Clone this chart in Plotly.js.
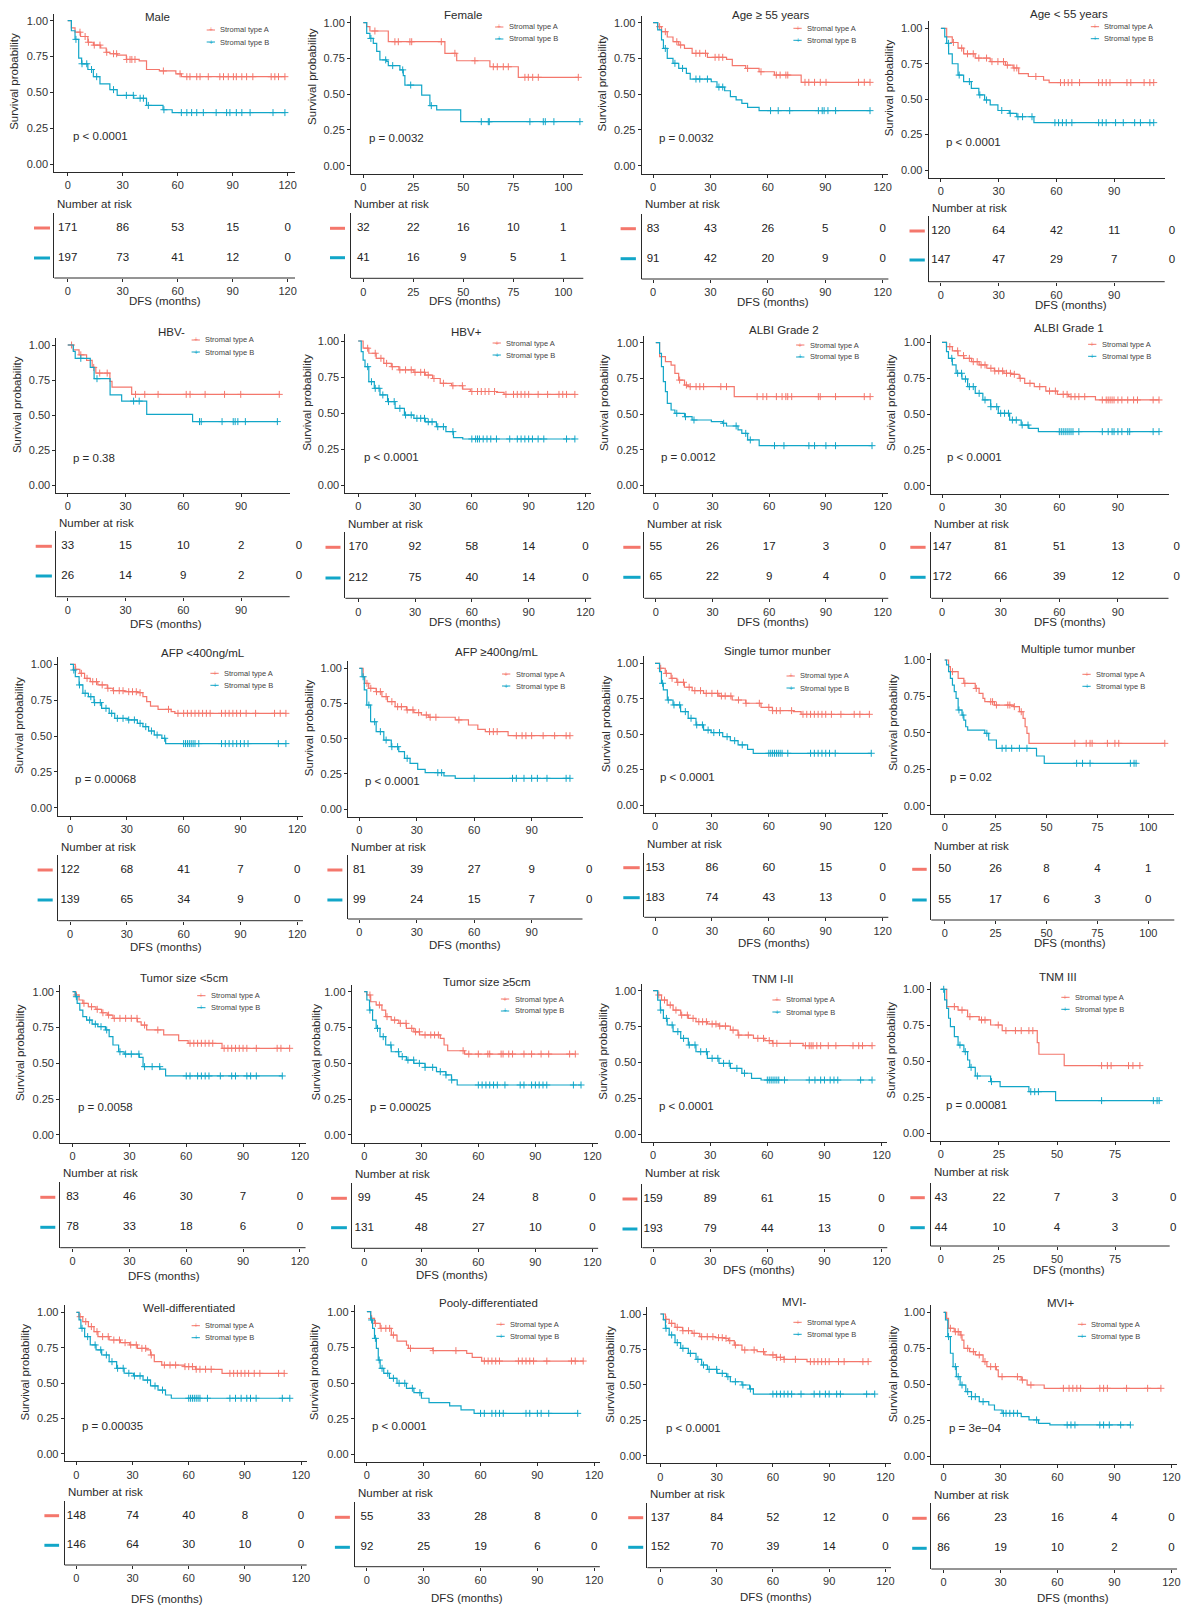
<!DOCTYPE html>
<html><head><meta charset="utf-8">
<script src="https://cdn.plot.ly/plotly-3.0.1.min.js"></script>
<style>html,body{margin:0;padding:0;background:#fff}#chart{width:1185px;height:1608px}</style>
</head><body><div id="chart"></div>
<script>
// ---------------- DATA ----------------
const panelTitles = ['Male','Female','Age \u2265 55 years','Age < 55 years','HBV-','HBV+','ALBI Grade 2','ALBI Grade 1',
  'AFP <400ng/mL','AFP \u2265400ng/mL','Single tumor munber','Multiple tumor munber','Tumor size <5cm','Tumor size \u22655cm',
  'TNM I-II','TNM III','Well-differentiated','Pooly-differentiated','MVI-','MVI+'];
const pValues = ['p < 0.0001','p = 0.0032','p = 0.0032','p < 0.0001','p = 0.38','p < 0.0001','p = 0.0012','p < 0.0001',
  'p = 0.00068','p < 0.0001','p < 0.0001','p = 0.02','p = 0.0058','p = 0.00025','p < 0.0001','p = 0.00081',
  'p = 0.00035','p < 0.0001','p < 0.0001','p = 3e\u221204'];
const groupNames = ['Stromal type A','Stromal type B'];
const riskTimes120 = [0,30,60,90,120];
const riskTimes100 = [0,25,50,75,100];
const uses100 = [false,true,false,false,false,false,false,false,false,false,false,true,false,false,false,true,false,false,false,false];
const tickMax = [120,100,120,90,90,120,120,90,120,90,120,100,120,120,120,75,120,120,120,120];
const riskA = [[171,86,53,15,0],[32,22,16,10,1],[83,43,26,5,0],[120,64,42,11,0],[33,15,10,2,0],[170,92,58,14,0],
  [55,26,17,3,0],[147,81,51,13,0],[122,68,41,7,0],[81,39,27,9,0],[153,86,60,15,0],[50,26,8,4,1],
  [83,46,30,7,0],[99,45,24,8,0],[159,89,61,15,0],[43,22,7,3,0],[148,74,40,8,0],[55,33,28,8,0],[137,84,52,12,0],[66,23,16,4,0]];
const riskB = [[197,73,41,12,0],[41,16,9,5,1],[91,42,20,9,0],[147,47,29,7,0],[26,14,9,2,0],[212,75,40,14,0],
  [65,22,9,4,0],[172,66,39,12,0],[139,65,34,9,0],[99,24,15,7,0],[183,74,43,13,0],[55,17,6,3,0],
  [78,33,18,6,0],[131,48,27,10,0],[193,79,44,13,0],[44,10,4,3,0],[146,64,30,10,0],[92,25,19,6,0],[152,70,39,14,0],[86,19,10,2,0]];

// Kaplan-Meier steps: [time, survival after step]; censor times
const male_A = [[0,1],[2,0.95],[4,0.92],[7,0.89],[11,0.85],[14,0.83],[18,0.81],[21,0.78],[23,0.77],[27,0.76],[32,0.73],[39,0.72],[43,0.66],[50,0.65],[59,0.63],[62,0.61]];
const male_A_cens = [6.7,9.5,11.3,14.5,17.6,21.3,25,26.7,32.2,34,35,36.7,52.2,61.3,65,66.7,70.4,72.2,76.7,83,85,87.6,90.4,92,95,97.6,101,111,113,115,118.5];
const male_B = [[0,1],[2,0.93],[4,0.87],[6,0.74],[7.6,0.70],[11,0.66],[14,0.61],[17.6,0.56],[23,0.52],[27,0.48],[36,0.46],[43,0.41],[52,0.38],[57,0.36]];
const male_B_cens = [4.5,7.8,10.4,13,15.8,25,32,35.8,39.5,41.3,44,52.5,62,65,67.6,70.4,74,81,86.7,88.5,92,95,99.5,112,118.5];

const female_A = [[0,1],[1.7,0.972],[3.3,0.942],[12.5,0.867],[40.8,0.786],[46.7,0.734],[63.3,0.692],[77.5,0.618]];
const female_A_cens = [5.8,15.8,17.5,23.3,24.2,39,45.8,55.8,65,67,70,72.5,80.8,82.5,84.7,87.5,107.5];
const female_B = [[0,1],[1.7,0.925],[3.3,0.89],[5,0.855],[6.7,0.80],[8.3,0.74],[11.7,0.73],[12.5,0.70],[18.3,0.67],[20,0.63],[20.8,0.564],[29.2,0.494],[33.3,0.42],[36.7,0.39],[48.7,0.308]];
const female_B_cens = [3.8,11.2,14.7,19.7,23.7,34,59,62.5,63,83.3,90,91,95.3,108.3];

const age55p_A = [[0,1],[2.4,0.972],[4.4,0.937],[7.4,0.90],[10.4,0.867],[13.4,0.844],[16.4,0.82],[20.4,0.786],[28.4,0.758],[38.4,0.744],[41.4,0.70],[48.4,0.68],[55.4,0.657],[63.4,0.634],[77.4,0.583]];
const age55p_A_cens = [3.4,6.4,12.4,14.4,22.4,24.4,27.4,32.4,34.4,36.4,49.4,56.4,64.4,66.4,69.4,70.4,79.4,81.4,84.4,87.4,90.4,107.4,110.4,113.4];
const age55p_B = [[0,1],[2.4,0.95],[4.4,0.88],[5.4,0.82],[7.4,0.75],[10.4,0.716],[13.4,0.68],[17.4,0.646],[19.4,0.606],[30.4,0.587],[33.4,0.55],[37.4,0.524],[40.4,0.483],[43.4,0.46],[46.4,0.436],[49.4,0.408],[55.4,0.385]];
const age55p_B_cens = [6.4,11.4,15.4,22.4,24.4,28.4,34.4,36.4,61.4,65.4,71.4,86.4,88.4,89.4,91.4,95.4,113.4];

const age55m_A = [[0,1],[3,0.94],[5.9,0.90],[8.9,0.86],[11.8,0.82],[17.8,0.79],[25.6,0.765],[33.5,0.74],[37.5,0.72],[40.4,0.68],[45.4,0.66],[53.3,0.635],[56.2,0.617]];
const age55m_A_cens = [6.5,10.8,13.8,16.8,19.7,23.7,26.5,29.6,32.5,34.5,38,39.4,49.3,62.1,64.1,66.1,68,72,81.9,83.8,85.8,87.8,96.6,98.6,105.5,108.5,110.5];
const age55m_B = [[0,1],[2,0.94],[3,0.894],[4,0.82],[5.9,0.75],[8.9,0.67],[11.8,0.624],[15.8,0.576],[19.7,0.53],[22.7,0.494],[25.6,0.46],[29.6,0.42],[35.5,0.40],[39.4,0.376],[48.3,0.334]];
const age55m_B_cens = [3.9,9.5,14.8,20.2,23.7,31.6,36,40,42.4,47.3,59.2,61.1,63.1,65.1,68,81.9,83.8,85.8,90.7,94.7,100.6,103.6,108.5,110.5];

const hbvn_A = [[0,1],[2.9,0.965],[5.9,0.93],[9.8,0.89],[12.7,0.84],[14.6,0.80],[21.9,0.74],[23,0.70],[33.2,0.648]];
const hbvn_A_cens = [2,6.8,13.5,16.6,20.5,35.2,40,46.9,61.5,63.5,71.3,81.4,89.8,109.8];
const hbvn_B = [[0,1],[2.9,0.955],[3.9,0.905],[11.7,0.84],[13.7,0.76],[22,0.644],[28,0.60],[41,0.506],[64.8,0.454]];
const hbvn_B_cens = [6.8,15.2,34.2,37.1,68.4,69.3,80.1,85.9,86.9,88.3,92.2,108.8];

const hbvp_A = [[0,1],[2.6,0.95],[5.6,0.915],[9.5,0.88],[13.5,0.845],[17.5,0.822],[21.5,0.80],[29.4,0.783],[35.4,0.764],[39.3,0.74],[43.3,0.707],[49.3,0.69],[55.2,0.667],[59.2,0.65],[73.1,0.644],[77,0.63]];
const hbvp_A_cens = [5,9,12,15,18,22,25,28,30,33,35,37,40,45,50,55,60,63,65,67,69,72,78,82,84,86,88,90,95,100,106,108,110,114.4];
const hbvp_B = [[0,1],[1.6,0.926],[2.6,0.868],[3.6,0.822],[5.6,0.718],[8.5,0.672],[11.5,0.626],[15.5,0.58],[19.5,0.533],[24.4,0.487],[29.4,0.464],[35.4,0.44],[41.3,0.406],[46.3,0.372],[50.3,0.33],[55.2,0.321]];
const hbvp_B_cens = [5,7,9,11,13,16,19,22,25,28,31,33,35,37,39,42,45,50,60,62,63,64,66,68,70,73,80,84,86,88,90,92,95,98,110,114.4];

const albi2_A = [[0,1],[2,0.902],[5.1,0.867],[8.1,0.843],[10.1,0.785],[12.1,0.738],[15.2,0.703],[17.2,0.692],[41.5,0.622]];
const albi2_A_cens = [12.6,16.2,18.2,21.3,23.3,25.3,34.4,37.4,53.6,56.7,58.7,63.8,66.8,68.8,69.8,71.9,86,87,95.1,110.3,113.4];
const albi2_B = [[0,1],[2,0.925],[3,0.832],[4,0.727],[5.1,0.657],[6.1,0.575],[8.1,0.528],[10.1,0.505],[15.2,0.481],[19.2,0.458],[29.4,0.446],[35.4,0.435],[37.4,0.416],[43.5,0.388],[45.5,0.364],[48.6,0.318],[54.7,0.278]];
const albi2_B_cens = [11.1,15.7,20.2,35.9,42.5,47.6,50,62.8,67.8,81,84,90,95.1,114.4];

const albi1_A = [[0,1],[2.3,0.97],[5.3,0.94],[8.2,0.907],[11.2,0.888],[15.1,0.865],[19,0.842],[22.9,0.819],[26.8,0.80],[31.7,0.784],[35.6,0.777],[39.5,0.749],[42.3,0.714],[47.2,0.691],[53.1,0.66],[59,0.637],[64.8,0.621],[78.5,0.598]];
const albi1_A_cens = [4,8,11,14,16,18,20,22,25,27,29,31,33,35,37,40,45,50,55,58,62,64,66,68,70,73,82,84,85,86,87,88,90,92,95,98,100,108,111];
const albi1_B = [[0,1],[2.3,0.935],[3.3,0.888],[5.3,0.842],[7.2,0.784],[10.2,0.744],[13.1,0.691],[17,0.644],[20.9,0.598],[24.9,0.551],[28.8,0.505],[34.6,0.458],[40.5,0.423],[44.4,0.40],[49.3,0.377]];
const albi1_B_cens = [5,8,10,12,14,16,19,22,25,28,30,32,34,36,38,41,44,60,61,62,63,64,65,66,67,70,82,85,87,88,90,92,95,96,108,111];

const afpl_A = [[0,1],[2.8,0.965],[5.2,0.937],[7.7,0.902],[10.7,0.879],[14.7,0.856],[19.7,0.833],[22.7,0.816],[28.6,0.809],[35.6,0.802],[38.5,0.774],[40.5,0.74],[42.5,0.709],[46.5,0.686],[53.4,0.67],[55.4,0.658]];
const afpl_A_cens = [3,6,9,12,14,17,20,23,26,28,31,33,35,37,52,57,60,62,64,66,68,70,72,74,80,82,84,86,88,90,93,98,108,111,114];
const afpl_B = [[0,1],[1.8,0.96],[2.8,0.914],[4.8,0.856],[6.8,0.798],[9.7,0.774],[12.7,0.733],[16.7,0.693],[20.7,0.658],[23.6,0.623],[30.6,0.612],[35.6,0.588],[38.5,0.565],[41.5,0.535],[44.5,0.507],[48.5,0.484],[50.5,0.447]];
const afpl_B_cens = [2,5,8,11,13,16,19,22,25,28,31,34,37,40,43,46,50,60,61,62,63,64,65,66,68,80,82,84,86,88,90,92,94,110,114];

const afph_A = [[0,1],[2,0.94],[2.9,0.893],[4.9,0.858],[8.8,0.834],[11.8,0.799],[14.7,0.763],[18.7,0.727],[24.6,0.704],[28.5,0.685],[32.4,0.668],[36.3,0.652],[50.1,0.633],[57,0.597],[61.9,0.566],[65.8,0.55],[77.7,0.521]];
const afph_A_cens = [4,6,9,11,14,17,20,22,25,28,31,35,37,40,52,68,70,72,82,85,87,90,96,102,108,110];
const afph_B = [[0,1],[1.4,0.94],[2.6,0.846],[3.9,0.739],[5.9,0.62],[8.8,0.55],[12.8,0.49],[16.7,0.443],[20.6,0.408],[23.6,0.36],[26.5,0.325],[30.5,0.282],[34.4,0.258],[44.2,0.235],[50.1,0.218]];
const afph_B_cens = [2,5,8,11,14,17,20,25,41,43,60,80,82,86,90,93,98,108,110];

const single_A = [[0,1],[2.4,0.965],[5.4,0.929],[8.5,0.894],[11.5,0.866],[15.5,0.831],[19.6,0.807],[25.6,0.788],[33.7,0.769],[40.7,0.741],[47.8,0.718],[55.9,0.689],[61.9,0.666],[73,0.659],[77,0.64]];
const single_A_cens = [3,6,9,12,15,18,21,24,27,30,33,35,37,40,44,48,55,60,62,64,66,72,78,80,82,84,86,88,90,93,98,105,108,113];
const single_B = [[0,1],[2.4,0.941],[3.4,0.859],[4.4,0.812],[6.5,0.741],[9.5,0.706],[13.5,0.659],[17.5,0.612],[21.6,0.565],[25.6,0.529],[29.6,0.511],[35.7,0.482],[39.7,0.454],[43.8,0.424],[48.8,0.393],[51.8,0.365]];
const single_B_cens = [4,7,10,13,16,19,22,25,28,31,34,38,42,46,60,61,62,63,64,65,66,67,70,82,84,86,88,90,92,95,114];

const multi_A = [[0,1],[1.9,0.954],[2.8,0.92],[6.6,0.874],[9.4,0.84],[15,0.805],[16.9,0.771],[18.8,0.737],[19.7,0.714],[24.4,0.691],[33.8,0.68],[36.7,0.645],[38.5,0.60],[39.5,0.542],[40.4,0.497],[41.4,0.428]];
const multi_A_cens = [3.8,9.9,15.5,22.6,23.5,25.4,31,32,34.2,37.6,63.9,69.5,71.4,72.4,79.9,83.6,85.5,108.1];
const multi_B = [[0,1],[0.9,0.966],[1.9,0.92],[2.8,0.874],[3.8,0.828],[4.7,0.783],[5.6,0.737],[6.6,0.657],[8.5,0.622],[9.4,0.588],[10.3,0.542],[11.3,0.519],[19.7,0.497],[21.6,0.451],[25.4,0.394],[45.1,0.341],[48.9,0.291]];
const multi_B_cens = [7,9,20.7,28.2,30.1,32.9,36.7,40.4,64.8,67.7,71.4,91.2,93,94];

const s5l_A = [[0,1],[1.4,0.977],[3.4,0.942],[5.4,0.919],[8.3,0.895],[12.3,0.877],[15.3,0.853],[18.3,0.837],[21.3,0.814],[34.2,0.79],[36.2,0.767],[39.1,0.733],[48.1,0.698],[56,0.658],[61,0.64],[78.9,0.605]];
const s5l_A_cens = [2,6,10,13,16,19,22,25,28,31,34,38,45,62,64,66,68,70,72,74,80,82,84,86,88,90,92,97,108,110,114.6];
const s5l_B = [[0,1],[1.4,0.965],[2.4,0.919],[3.8,0.872],[5.4,0.826],[7.4,0.802],[10.3,0.774],[13.3,0.756],[17.3,0.733],[19.3,0.686],[21.3,0.628],[24.3,0.581],[27.2,0.565],[35.2,0.542],[37.2,0.477],[46.1,0.46],[49.1,0.412]];
const s5l_B_cens = [2,9,12,15,18,25,28,31,35,38,42,46,60,62,66,68,70,72,78,84,86,92,94,97,110.7];

const s5h_A = [[0,1],[1.4,0.977],[3.4,0.93],[6.3,0.907],[9.3,0.872],[11.3,0.826],[14.2,0.802],[18.2,0.779],[22.2,0.744],[26.1,0.72],[29.1,0.698],[40,0.674],[42,0.628],[43.9,0.588],[52.8,0.565]];
const s5h_A_cens = [3,8,12,16,19,22,25,27,29,32,35,37,39,52,55,60,65,66,72,73,76,78,84,88,93,97,108,111];
const s5h_B = [[0,1],[1.4,0.942],[2.8,0.872],[4.4,0.802],[6.3,0.744],[8.3,0.686],[11.3,0.628],[14.2,0.581],[18.2,0.547],[22.2,0.523],[26.1,0.50],[32,0.472],[38,0.442],[42.9,0.419],[45.9,0.384],[48.9,0.349]];
const s5h_B_cens = [3,7,10,14,18,20,23,26,29,32,36,40,43,46,60,62,64,66,68,70,74,82,84,88,90,92,94,96,110,114];

const tnm12_A = [[0,1],[2.4,0.97],[4.4,0.935],[7.4,0.90],[10.5,0.865],[14.5,0.83],[18.5,0.807],[22.5,0.784],[28.5,0.768],[34.6,0.754],[40.6,0.726],[44.6,0.691],[52.7,0.668],[58.7,0.652],[62.7,0.633],[78.8,0.617]];
const tnm12_A_cens = [3,6,9,12,15,18,21,24,26,28,31,33,35,38,42,45,50,55,58,61,63,65,72,80,82,83,84,86,88,92,96,105,108,110,115];
const tnm12_B = [[0,1],[2.4,0.935],[3.8,0.865],[5.4,0.807],[7.4,0.761],[10.5,0.715],[14.5,0.668],[18.5,0.622],[22.5,0.575],[28.5,0.529],[34.6,0.494],[40.6,0.459],[46.6,0.425],[51.7,0.39],[56.7,0.378]];
const tnm12_B_cens = [4,7,10,13,16,19,22,25,28,31,34,37,40,44,48,60,61,62,63,64,65,66,69,82,85,88,90,93,95,97,109,115];

const tnm3_A = [[0,1],[2.5,0.88],[7.4,0.856],[11.5,0.81],[16.5,0.787],[21.4,0.752],[26.4,0.713],[41.5,0.63],[42.2,0.549],[53.1,0.47]];
const tnm3_A_cens = [5.8,9.1,12.5,17.5,19,24.7,28,32.1,34.6,37.9,39.6,69.2,71.7,73.3,80.8,82.7,85.7];
const tnm3_B = [[0,1],[1.6,0.926],[2.5,0.868],[3.3,0.799],[4.1,0.741],[5.8,0.671],[7.4,0.613],[9.9,0.567],[11.5,0.509],[12.4,0.458],[14.8,0.398],[21.4,0.359],[25.5,0.324],[37.9,0.289],[49.4,0.227]];
const tnm3_B_cens = [1.2,8.2,10.5,13,15.7,21.8,38.7,40.4,42,69.2,91.5,93.1,94];

const well_A = [[0,1],[1.4,0.969],[3.4,0.934],[6.4,0.899],[9.4,0.863],[11.5,0.828],[17.5,0.804],[23.5,0.785],[28.5,0.769],[32.6,0.745],[37.6,0.734],[39.6,0.698],[41.6,0.651],[45.6,0.627],[57.7,0.616],[63.7,0.597],[77.8,0.568]];
const well_A_cens = [2,5,8,11,14,17,20,23,26,29,32,35,37,40,47,50,53,58,60,62,64,66,69,72,82,84,86,88,90,92,95,98,108,111];
const well_B = [[0,1],[1.4,0.946],[2.4,0.887],[4.4,0.828],[7.4,0.769],[10.5,0.734],[13.5,0.698],[17.5,0.651],[21.5,0.604],[25.5,0.569],[30.5,0.55],[35.6,0.521],[39.6,0.479],[43.6,0.45],[47.6,0.415],[50.7,0.392]];
const well_B_cens = [3,6,10,13,16,19,22,25,28,31,34,38,42,46,60,61,62,63,64,65,66,70,82,85,88,91,93,96,110,114];

const pooly_A = [[0,1],[2,0.953],[4,0.918],[7,0.883],[12.9,0.836],[15.9,0.794],[20.9,0.766],[21.9,0.743],[34.8,0.727],[52.7,0.708],[55.6,0.68],[60.6,0.654]];
const pooly_A_cens = [2.5,4.5,7.5,10,12,14,23,35,47,62,64,66,68,70,80,82,84,86,88,95,108,110,114.2];
const pooly_B = [[0,1],[2,0.942],[3,0.883],[4,0.813],[5,0.743],[6,0.661],[7,0.603],[8.9,0.568],[11.9,0.533],[15.9,0.498],[20.9,0.463],[24.8,0.432],[28.8,0.393],[32.8,0.362],[43.7,0.339],[49.7,0.311],[56.6,0.287]];
const pooly_B_cens = [2.5,4.5,6.5,8,11,14,17,20,24,28,60,62,66,68,70,72,84,86,90,92,96,111.3];

const mvin_A = [[0,1],[2.7,0.962],[4.7,0.934],[7.8,0.906],[11.8,0.882],[16.9,0.864],[21,0.84],[29.2,0.833],[34.3,0.828],[36.3,0.812],[39.4,0.781],[43.5,0.746],[51.6,0.734],[55.7,0.711],[61.8,0.694],[65.9,0.68],[78.2,0.664]];
const mvin_A_cens = [3,6,9,12,15,18,22,25,28,31,33,35,37,40,45,50,55,60,62,64,66,72,80,82,84,86,88,90,95,98,108,110.8];
const mvin_B = [[0,1],[1.6,0.958],[2.7,0.899],[4.7,0.852],[7.8,0.798],[10.8,0.758],[14.9,0.722],[19,0.68],[22,0.64],[25.1,0.609],[30.2,0.581],[35.3,0.558],[37.3,0.522],[43.5,0.499],[47.6,0.471],[49.6,0.435]];
const mvin_B_cens = [3,6,9,12,16,20,23,26,30,33,36,40,44,48,60,62,64,66,68,70,75,82,85,88,90,94,96,110,114.3];

const mvip_A = [[0,1],[1.6,0.958],[2.6,0.889],[5.6,0.865],[8.7,0.842],[9.7,0.807],[10.7,0.749],[13.7,0.726],[16.7,0.703],[20.8,0.657],[22.8,0.622],[27.8,0.599],[28.8,0.552],[40.9,0.529],[44,0.494],[53,0.471]];
const mvip_A_cens = [3.6,6.2,7.7,9.2,12.7,15.7,18.8,21.8,24.8,27.3,30.8,38.9,41.5,46,63.1,66.1,68.1,70.2,72.2,82.3,84.3,86.3,96.4,107.5,114.5];
const mvip_B = [[0,1],[1,0.947],[2.2,0.831],[3.6,0.715],[5,0.622],[6.7,0.552],[8.7,0.494],[11.7,0.448],[14.7,0.413],[18.8,0.378],[23.8,0.355],[26.8,0.32],[30.8,0.297],[40.9,0.274],[45,0.251],[50,0.227],[56,0.216]];
const mvip_B_cens = [2.6,6.2,7.7,9.7,12.7,14.7,16.7,20.8,31.5,32.9,34.9,36.9,38.9,49,65.1,67.1,69.2,82.3,84.3,87.3,93.3,98.4];

// ---------------- ASSEMBLY ----------------
const curvesA = [male_A,female_A,age55p_A,age55m_A,hbvn_A,hbvp_A,albi2_A,albi1_A,afpl_A,afph_A,single_A,multi_A,s5l_A,s5h_A,tnm12_A,tnm3_A,well_A,pooly_A,mvin_A,mvip_A];
const censA = [male_A_cens,female_A_cens,age55p_A_cens,age55m_A_cens,hbvn_A_cens,hbvp_A_cens,albi2_A_cens,albi1_A_cens,afpl_A_cens,afph_A_cens,single_A_cens,multi_A_cens,s5l_A_cens,s5h_A_cens,tnm12_A_cens,tnm3_A_cens,well_A_cens,pooly_A_cens,mvin_A_cens,mvip_A_cens];
const curvesB = [male_B,female_B,age55p_B,age55m_B,hbvn_B,hbvp_B,albi2_B,albi1_B,afpl_B,afph_B,single_B,multi_B,s5l_B,s5h_B,tnm12_B,tnm3_B,well_B,pooly_B,mvin_B,mvip_B];
const censB = [male_B_cens,female_B_cens,age55p_B_cens,age55m_B_cens,hbvn_B_cens,hbvp_B_cens,albi2_B_cens,albi1_B_cens,afpl_B_cens,afph_B_cens,single_B_cens,multi_B_cens,s5l_B_cens,s5h_B_cens,tnm12_B_cens,tnm3_B_cens,well_B_cens,pooly_B_cens,mvin_B_cens,mvip_B_cens];

// Layout geometry (pixels): L, X0, pxPerMonth, y(1.00), y(0.00), R, titleX, titleY, ylabX, narY, rowA, rowB, tableAxis, dfsX, dfsY, legX, legY, dash0, dash1
const geom = [
 [54.3,67.7,1.833,20.7,164.3,295,157,17,13.3,204,228,258,278,165,301,218.3,30,34,50],
 [351,363.3,2.0,22.7,165.7,583.3,463.3,15,311.7,204,228.3,257.7,278.3,465,301,506.7,27,330,345],
 [641.6,653.1,1.913,22.7,165.7,879.6,771.4,15,602.2,204.3,228.7,258.7,279,772.5,301.7,805,28.3,620.6,635.9],
 [928.6,940.9,1.926,28.3,170,1164.7,1069.1,14,889.2,207.7,231,260,281.7,1071,304.5,1102.4,26.7,909.5,924.8],
 [56.4,67.7,1.927,345,485.3,289.7,171.2,331.7,16.9,523.3,546.3,576,596.7,165.6,624.3,203.2,340,35.7,51.9],
 [345.4,358.2,1.894,341,485.3,591,466.6,332.3,306.7,524.3,547.3,578,598.3,464.7,622.3,504.2,343,325.5,340.5],
 [644.3,655.8,1.890,342.7,485.3,880.4,784,330,604.1,524,547.3,577.3,598.3,772.5,621.7,807.7,345,623.3,640.5],
 [931.3,942,1.955,342.3,485.7,1168.5,1069.1,328.3,891.1,524,547.3,577.3,598.3,1070.2,622.3,1099.7,344.3,910.3,925.6],
 [58.3,70,1.894,664.3,807.7,296.5,203.2,652.7,18.8,846.7,870,900,920.7,165.6,947,222,673.3,37.6,52.7],
 [348.1,359.3,1.915,668.3,809,582.5,496.7,651.7,308.5,846.7,870,900,919,464.7,945,513.6,674,327.4,342.4],
 [644.3,655,1.897,663.3,805,880.4,777.5,651,606,844.3,867.7,897.7,917.3,774.4,943.3,798.1,676,623.3,639.7],
 [931.3,944.7,2.036,660,805.7,1174.3,1078.7,649.3,893,845.7,869.3,900,920,1070.2,943.3,1094,674.3,912.2,926.7],
 [60.2,72.6,1.894,991.7,1135,299.9,184.4,977.7,20.7,1173.3,1197.3,1227.3,1247.7,164,1276,208.8,995.7,40.3,55.3],
 [351.8,364.2,1.902,991.7,1135,595,487.3,981.7,316.1,1174,1198.3,1227.7,1248.3,452,1275,512.5,999,331.1,346.9],
 [642.4,653.1,1.904,990.7,1134.3,881.6,772.5,979.3,602.2,1173.3,1199,1229,1247.7,758.5,1270,784,1000,622.5,637.4],
 [930.5,940.9,2.322,989.3,1133.3,1169.7,1058.4,976.7,891.1,1171.7,1197.7,1227.7,1246,1069,1270,1072.9,997.3,910.3,924.8],
 [64.7,76.4,1.872,1312.3,1453.7,299.9,188.9,1307.7,24.5,1491.7,1515.7,1545.3,1565,167.4,1599,203.2,1325.7,44.4,59.1],
 [354.8,366.9,1.894,1311.7,1454.3,599,488.4,1303.3,314.2,1493.3,1517.3,1547.3,1566.7,466.6,1597.7,508,1324.3,334.9,349.9],
 [647.4,660.4,1.875,1314,1455.7,883.5,793.6,1301.7,609.9,1494.3,1517.7,1547.3,1567.7,776.3,1596.7,805,1322.3,628.2,643.2],
 [931.3,943.6,1.898,1312.3,1456,1170.5,1060.3,1303.3,893,1495.3,1518.3,1548.3,1569,1072.9,1598.3,1089.4,1324.3,912.2,926.7]
];

const W = 1185, H = 1608;
const COLORS = ['#F4776C', '#12A6C8'];
const FONT = 'Liberation Sans, Arial, sans-serif';
const TXT = '#2b2b2b';
const LINE = '#2a2a2a';
const px2x = v => v / W, px2y = v => 1 - v / H;

function survAt(curve, t) { let v = 1; for (const [ti, si] of curve) { if (ti <= t) v = si; else break; } return v; }

const traces = [], annotations = [], shapes = [];
const layout = {
  width: W, height: H, margin: {l:0, r:0, t:0, b:0}, showlegend: false,
  paper_bgcolor: '#fff', plot_bgcolor: '#fff', font: {family: FONT, color: TXT, size: 11}
};
const axisBase = {showgrid:false, zeroline:false, showline:true, linecolor:LINE, linewidth:1,
  ticks:'outside', ticklen:3, tickwidth:1, tickcolor:LINE, tickfont:{family:FONT, size:11, color:'#333'}, fixedrange:true};

panelTitles.forEach((title, i) => {
  let [L,X0,K,Y1,Y0,R,tx,ty,ylx,nar,ra,rb,tb,dx,dy,lx,ly,d0,d1] = geom[i];
  const m = 2*i+1, r = 2*i+2;
  const sm = m === 1 ? '' : String(m), sr = String(r);
  const rt = uses100[i] ? riskTimes100 : riskTimes120;
  const tv = rt.filter(v => v <= tickMax[i]);
  // when the last risk time is labelled on the axis, the axis runs a little past it
  if (tickMax[i] === rt[rt.length-1]) R = Math.max(R, X0 + K*(tickMax[i]*1.025));
  const xr = [(L - X0)/K, (R - X0)/K];
  const span = Y0 - Y1;

  layout['xaxis'+sm] = Object.assign({}, axisBase, {domain:[px2x(L), px2x(R)], range:xr, anchor:'y'+sm,
    tickmode:'array', tickvals:tv, ticktext:tv.map(String)});
  layout['yaxis'+sm] = Object.assign({}, axisBase, {domain:[px2y(Y0 + 0.055*span), px2y(Y1 - 0.05*span)],
    range:[-0.055, 1.05], anchor:'x'+sm, tickmode:'array', tickvals:[0,0.25,0.5,0.75,1],
    ticktext:['0.00','0.25','0.50','0.75','1.00']});

  // risk table axis: range widened if needed so the last column is inside; its baseline is drawn to R
  const rEnd = Math.max(xr[1], rt[rt.length-1] + 2.5);
  const Rr = X0 + K*rEnd;
  const k = rb - ra;
  layout['xaxis'+sr] = Object.assign({}, axisBase, {domain:[px2x(L), px2x(Rr)], range:[xr[0], rEnd], anchor:'y'+sr,
    showline:false, tickmode:'array', tickvals:tv, ticktext:tv.map(String)});
  layout['yaxis'+sr] = Object.assign({}, axisBase, {domain:[px2y(tb), px2y(ra - 15)],
    range:[1 - (tb - rb)/k, 2 + 15/k], anchor:'x'+sr, ticks:'', showticklabels:false});
  shapes.push({type:'line', xref:'paper', yref:'paper', x0:px2x(L), x1:px2x(R), y0:px2y(tb), y1:px2y(tb),
    line:{color:LINE, width:1}});

  [[curvesA[i], censA[i], riskA[i], 2], [curvesB[i], censB[i], riskB[i], 1]].forEach(([curve, cens, risk, row], g) => {
    const color = COLORS[g];
    const tEnd = Math.max(curve[curve.length-1][0], cens[cens.length-1]);
    const xs = curve.map(p => p[0]).concat([tEnd]);
    const ys = curve.map(p => p[1]).concat([curve[curve.length-1][1]]);
    traces.push({type:'scatter', mode:'lines', x:xs, y:ys, xaxis:'x'+sm, yaxis:'y'+sm,
      line:{shape:'hv', color:color, width:1.2}, hoverinfo:'skip', name:groupNames[g]});
    traces.push({type:'scatter', mode:'markers', x:cens, y:cens.map(t => survAt(curve, t)), xaxis:'x'+sm, yaxis:'y'+sm,
      marker:{symbol:'cross-thin', size:5, color:color, line:{color:color, width:1}}, hoverinfo:'skip', name:groupNames[g]});
    traces.push({type:'scatter', mode:'text', x:rt, y:rt.map(() => row), text:risk.map(String), xaxis:'x'+sr, yaxis:'y'+sr,
      textfont:{family:FONT, size:11.5, color:'#222'}, textposition:'middle center', cliponaxis:false, hoverinfo:'skip'});
    // risk-table legend dash
    const ry = g === 0 ? ra : rb;
    shapes.push({type:'line', xref:'paper', yref:'paper', x0:px2x(d0), x1:px2x(d1), y0:px2y(ry), y1:px2y(ry),
      line:{color:color, width:3}});
    // inside legend
    const yy = ly + g*12;
    shapes.push({type:'line', xref:'paper', yref:'paper', x0:px2x(lx-11.6), x1:px2x(lx-3.3), y0:px2y(yy), y1:px2y(yy),
      line:{color:color, width:1}});
    annotations.push({xref:'paper', yref:'paper', x:px2x(lx-7.5), y:px2y(yy), text:'+', showarrow:false,
      xanchor:'center', yanchor:'middle', font:{family:FONT, size:7, color:color}});
    annotations.push({xref:'paper', yref:'paper', x:px2x(lx), y:px2y(yy), text:groupNames[g], showarrow:false,
      xanchor:'left', yanchor:'middle', font:{family:FONT, size:7.5, color:'#444'}});
  });

  annotations.push({xref:'paper', yref:'paper', x:px2x(tx), y:px2y(ty), text:title, showarrow:false,
    xanchor:'center', yanchor:'middle', font:{family:FONT, size:11.5, color:TXT}});
  const ylabY = (Y1 + Y0)/2 - (i === 1 ? 18 : 11);
  annotations.push({xref:'paper', yref:'paper', x:px2x(ylx), y:px2y(ylabY), text:'Survival probability', showarrow:false,
    textangle:-90, xanchor:'center', yanchor:'middle', font:{family:FONT, size:11.5, color:TXT}});
  annotations.push({xref:'x'+sm, yref:'y'+sm, x:0, y:0.197, xshift:3.4, text:pValues[i], showarrow:false,
    xanchor:'left', yanchor:'middle', font:{family:FONT, size:11.5, color:TXT}});
  annotations.push({xref:'paper', yref:'paper', x:px2x(L+1), y:px2y(nar), text:'Number at risk', showarrow:false,
    xanchor:'left', yanchor:'middle', font:{family:FONT, size:11.5, color:TXT}});
  annotations.push({xref:'paper', yref:'paper', x:px2x(dx), y:px2y(dy), text:'DFS (months)', showarrow:false,
    xanchor:'center', yanchor:'middle', font:{family:FONT, size:11.5, color:TXT}});
});

layout.annotations = annotations;
layout.shapes = shapes;
Plotly.newPlot('chart', traces, layout, {displayModeBar:false, staticPlot:true});
</script></body></html>
